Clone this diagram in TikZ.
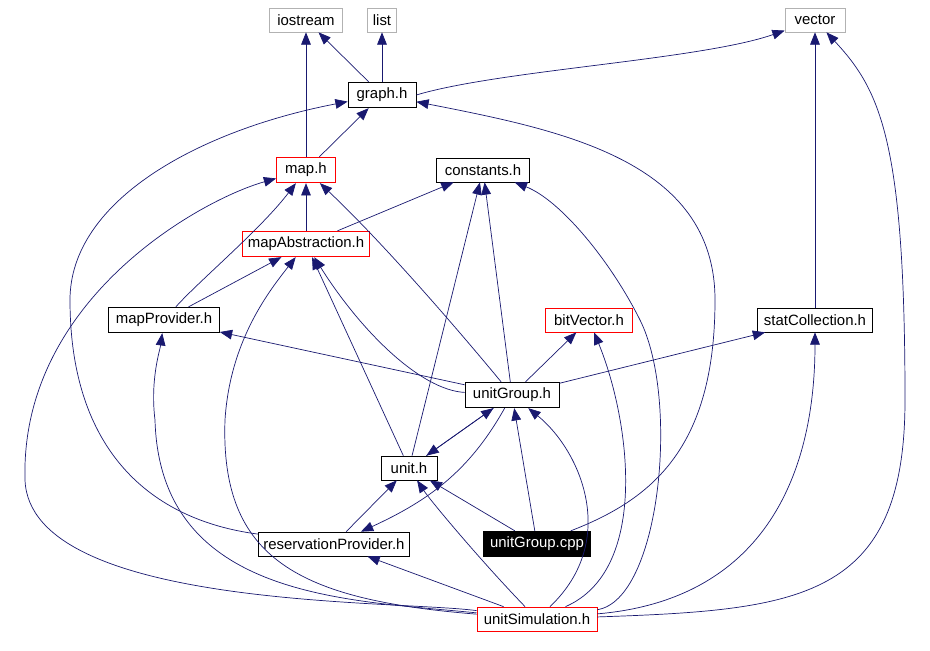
\documentclass[tikz,border=0pt]{standalone}
\usepackage{fontspec}
\setmainfont{Liberation Sans}
\usetikzlibrary{arrows.meta}
\definecolor{navy}{RGB}{25,25,112}
\begin{document}
\begin{tikzpicture}[x=0.02cm,y=-0.02cm,
    box/.style={draw=black,fill=white,minimum height=0.48cm,inner xsep=3pt,font=\fontsize{8.5}{10}\selectfont},
    gbox/.style={box,draw=gray!60},
    rbox/.style={box,draw=red},
    dep/.style={draw=navy,-{Triangle[length=7pt,width=5.5pt]}}]
        \useasboundingbox (0,0) rectangle (930,651);

        \node[gbox,minimum width=1.46cm] (iostream) at (306,20) {iostream};
        \node[gbox,minimum width=0.56cm] (list) at (382,20) {list};
        \node[gbox,minimum width=1.2cm] (vector) at (815,20) {vector};
        \node[box,minimum width=1.36cm] (graph) at (382,95) {graph.h};
        \node[rbox,minimum width=1.18cm] (map) at (306,170) {map.h};
        \node[box,minimum width=1.86cm] (constants) at (483,170) {constants.h};
        \node[rbox,minimum width=2.54cm] (mapAbs) at (306,244) {mapAbstraction.h};
        \node[box,minimum width=2.22cm] (mapProv) at (164,320) {mapProvider.h};
        \node[rbox,minimum width=1.74cm] (bitVec) at (589,320) {bitVector.h};
        \node[box,minimum width=2.3cm] (statColl) at (815,320) {statCollection.h};
        \node[box,minimum width=1.88cm] (unitGroup) at (512,395) {unitGroup.h};
        \node[box,minimum width=1.12cm] (unit) at (409,468) {unit.h};
        \node[box,minimum width=3cm] (resProv) at (334,544) {reservationProvider.h};
        \node[box,fill=black,text=white,minimum width=2.14cm] (ugCpp) at (537,544) {unitGroup.cpp};
        \node[rbox,minimum width=2.4cm] (unitSim) at (537,619) {unitSimulation.h};

        % graph.h and map.h
        \draw[dep] (graph) -- (iostream);
        \draw[dep] (graph) -- (list);
        \draw[dep] (graph.east) .. controls (500,70) and (700,60) .. (vector);
        \draw[dep] (map) -- (iostream);
        \draw[dep] (map) -- (graph);
        \draw[dep] (mapAbs) -- (map);
        \draw[dep] (mapAbs) -- (constants);
        \draw[dep] (mapProv) .. controls (200,280) and (260,230) .. (map);
        \draw[dep] (mapProv) -- (mapAbs);
        \draw[dep] (statColl) -- (vector);

        % unitGroup.h
        \draw[dep] (unitGroup) -- (mapProv);
        \draw[dep] (unitGroup) -- (bitVec);
        \draw[dep] (unitGroup) -- (statColl);
        \draw[dep] (unitGroup) -- (constants);
        \draw[dep] (unitGroup) .. controls (450,320) and (380,240) .. (map);
        \draw[dep] (unitGroup) .. controls (420,390) and (360,330) .. (mapAbs);
        \draw[dep] (unitGroup) -- (unit);
        \draw[dep] (unitGroup) .. controls (470,470) and (430,500) .. (resProv);

        % unit.h and friends
        \draw[dep] (unit) -- (unitGroup);
        \draw[dep] (unit) -- (constants);
        \draw[dep] (unit) -- (mapAbs);
        \draw[dep] (resProv) -- (unit);
        \draw[dep] (resProv) .. controls (150,520) and (70,450) .. (70,300) .. controls (70,200) and (200,130) .. (graph);
        \draw[dep] (ugCpp) -- (unitGroup);
        \draw[dep] (ugCpp) -- (unit);
        \draw[dep] (ugCpp) .. controls (650,500) and (715,450) .. (715,300) .. controls (715,160) and (560,130) .. (graph);

        % unitSimulation.h
        \draw[dep] (unitSim) -- (resProv);
        \draw[dep] (unitSim) .. controls (480,560) and (430,500) .. (unit);
        \draw[dep] (unitSim) .. controls (620,540) and (580,450) .. (unitGroup);
        \draw[dep] (unitSim) .. controls (650,570) and (630,420) .. (bitVec);
        \draw[dep] (unitSim) .. controls (760,600) and (815,480) .. (statColl);
        \draw[dep] (unitSim) .. controls (800,610) and (905,600) .. (905,400) .. controls (905,140) and (880,90) .. (vector);
        \draw[dep] (unitSim) .. controls (400,600) and (30,610) .. (25,480) .. controls (20,300) and (200,200) .. (map);
        \draw[dep] (unitSim) .. controls (350,600) and (160,600) .. (155,420) .. controls (150,380) and (160,350) .. (mapProv);
        \draw[dep] (unitSim) .. controls (300,600) and (220,560) .. (225,420) .. controls (230,340) and (270,290) .. (mapAbs);
        \draw[dep] (unitSim) .. controls (660,600) and (680,400) .. (640,320) .. controls (610,260) and (560,200) .. (constants);
      \end{tikzpicture}
\end{document}
